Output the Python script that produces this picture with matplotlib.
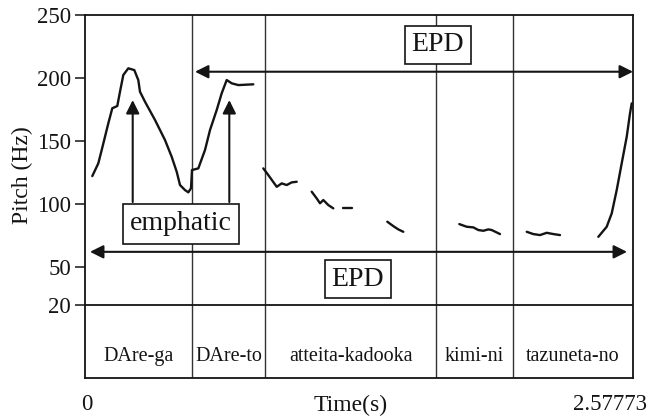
import matplotlib
matplotlib.use("Agg")
import matplotlib.pyplot as plt
import numpy as np

plt.rcParams['font.family'] = ['Liberation Serif', 'DejaVu Serif']

# ---- data ----
t_max = 2.57773
boundaries = [0.0, 0.5033, 0.8467, 1.6511, 2.0133, t_max]
words = ["DAre-ga", "DAre-to", "atteita-kadooka", "kimi-ni", "tazuneta-no"]
yticks = [20, 50, 100, 150, 200, 250]

seg_t = [
    [0.0343, 0.0626, 0.0786, 0.1096, 0.1284, 0.1519, 0.1646, 0.1802, 0.2037, 0.2319,
     0.2507, 0.2587, 0.2822, 0.3293, 0.3763, 0.4078, 0.4314, 0.4469, 0.4704, 0.4859,
     0.4986, 0.5033, 0.5330, 0.5645, 0.5880, 0.6195, 0.6430, 0.6666, 0.6901, 0.7211, 0.7917],
    [0.8387, 0.8623, 0.9018, 0.9253, 0.9488, 0.9723, 0.9958],
    [1.0664, 1.0899, 1.1054, 1.1210, 1.1445, 1.1680],
    [1.2150, 1.2545],
    [1.4220, 1.4503, 1.4738, 1.4973],
    [1.7607, 1.7955, 1.8266, 1.8501, 1.8736, 1.8971, 1.9131, 1.9522],
    [2.0778, 2.1088, 2.1403, 2.1718, 2.2029, 2.2344],
    [2.4146, 2.4541, 2.4776, 2.5011, 2.5246, 2.5482, 2.5637, 2.5717],
]
seg_hz = [
    [122.2, 132.3, 142.9, 164.0, 176.0, 177.8, 189.1, 202.4, 207.7, 206.3,
     198.4, 189.1, 181.2, 166.7, 150.8, 137.5, 125.6, 115.1, 111.1, 109.3,
     112.5, 127.0, 128.3, 142.9, 158.7, 174.6, 187.9, 198.4, 195.8, 194.4, 195.0],
    [128.3, 123.0, 113.7, 116.4, 115.1, 117.2, 117.7],
    [109.8, 104.5, 100.6, 103.2, 99.2, 96.6],
    [96.6, 96.6],
    [86.0, 82.5, 79.9, 78.0],
    [84.1, 82.0, 81.5, 79.4, 78.8, 79.9, 79.4, 76.2],
    [78.0, 76.2, 75.4, 77.2, 76.2, 75.4],
    [74.0, 82.0, 92.6, 111.1, 132.3, 153.4, 172.0, 179.9],
]

ink = '#141414'

fig = plt.figure(figsize=(6.57, 4.17), dpi=100)
ax = fig.add_axes([85/657, 1-378/417, 548/657, 363/417])
ax.set_xlim(0, t_max)
ax.set_ylim(-38, 250)

for s in ['left', 'bottom', 'top', 'right']:
    ax.spines[s].set_linewidth(1.3)
    ax.spines[s].set_color(ink)

ax.set_xticks([])
ax.set_yticks(yticks)
ax.set_yticklabels([str(v) for v in yticks], fontsize=16.5)
ax.tick_params(axis='y', direction='out', length=7, width=1.1, pad=3, colors=ink)

# tier line
ax.axhline(20, color=ink, lw=1.3, zorder=2)
# word boundaries
for b in boundaries[1:-1]:
    ax.axvline(b, color='#333333', lw=1.0, zorder=1)

# word labels
for i, w in enumerate(words):
    ax.text((boundaries[i] + boundaries[i+1]) / 2, -21, w, ha='center', va='center',
            fontsize=14.5, color=ink)

# pitch contour
for ts, hs in zip(seg_t, seg_hz):
    ax.plot(ts, hs, color=ink, lw=1.7, solid_capstyle='round', solid_joinstyle='round', zorder=3)

arrow_kw = dict(color=ink, lw=1.5, mutation_scale=20, shrinkA=0, shrinkB=0)
# EPD arrows
ax.annotate('', xy=(0.5174, 205.0), xytext=(2.5777, 205.0),
            arrowprops=dict(arrowstyle='<|-|>', **arrow_kw), zorder=4)
ax.annotate('', xy=(0.0235, 62.1), xytext=(2.5496, 62.1),
            arrowprops=dict(arrowstyle='<|-|>', **arrow_kw), zorder=4)
# emphatic arrows
for xa in [0.2244, 0.6788]:
    ax.annotate('', xy=(xa, 182.5), xytext=(xa, 101.6),
                arrowprops=dict(arrowstyle='-|>', **arrow_kw), zorder=4)

box = dict(boxstyle='square,pad=0.24', fc='white', ec=ink, lw=1.2)
ax.text(1.6605, 226.2, 'EPD', ha='center', va='center', fontsize=20, color=ink, bbox=box, zorder=6)
ax.text(1.2842, 40.5, 'EPD', ha='center', va='center', fontsize=20, color=ink, bbox=box, zorder=6)
ax.text(0.4516, 84.5, 'emphatic', ha='center', va='center', fontsize=20, color=ink,
        bbox=dict(boxstyle='square,pad=0.27', fc='white', ec=ink, lw=1.2), zorder=6)

# axis texts
fig.text(87/657, 1-405/417, '0', ha='center', va='center', fontsize=16.5, color=ink)
fig.text(351/657, 1-405/417, 'Time(s)', ha='center', va='center', fontsize=17, color=ink)
fig.text(610/657, 1-405/417, '2.57773', ha='center', va='center', fontsize=16.5, color=ink)
fig.text(22/657, 1-175/417, 'Pitch (Hz)', ha='center', va='center', rotation=90,
         fontsize=17, color=ink)

fig.savefig('out.png', dpi=100, facecolor='white')
